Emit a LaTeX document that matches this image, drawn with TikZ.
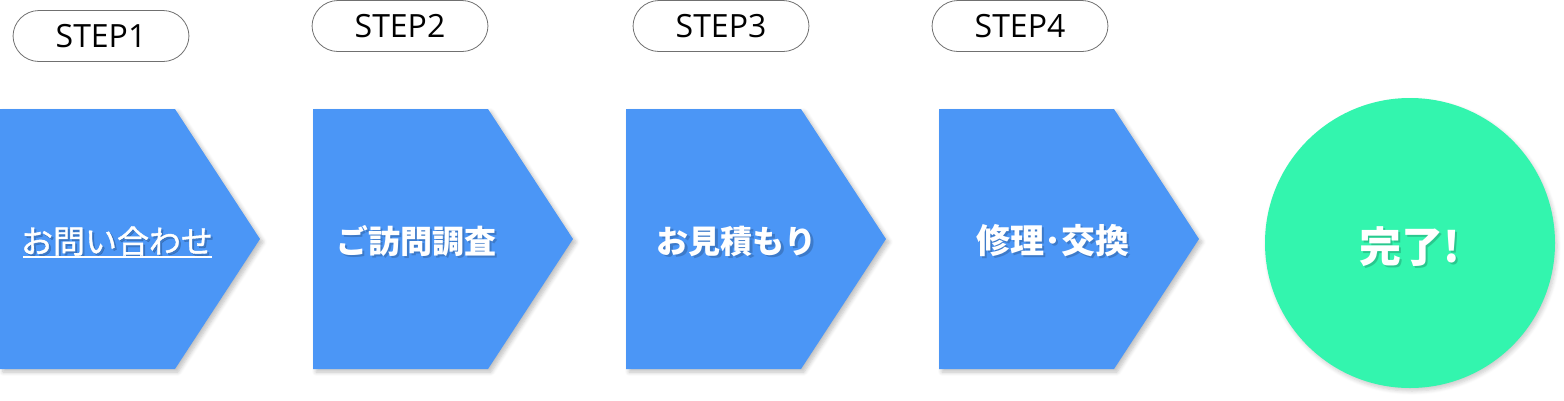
\documentclass[tikz,border=0pt]{standalone}
\usepackage{fontspec}
\setmainfont{Open Sans}
\newfontfamily\jp{Noto Sans CJK JP}
\newfontfamily\jpmed[FakeBold=1.2]{Noto Sans CJK JP}
\usetikzlibrary{shadows.blur}
\definecolor{stepblue}{HTML}{4B96F6}
\definecolor{donegreen}{HTML}{33F5AE}
\definecolor{pillgray}{HTML}{707070}
\tikzset{
  x=1pt,y=-1pt,
  arrowshape/.style={fill=stepblue,blur shadow={shadow xshift=3pt,shadow yshift=-3pt,shadow blur steps=6,shadow opacity=25,shadow blur radius=4pt}},
  pill/.style={draw=pillgray,line width=0.8pt,rounded corners=26pt,fill=white,minimum width=176pt,minimum height=51pt,inner sep=0pt,font=\fontsize{32}{32}\selectfont},
  lbl/.style={text=white,font=\jp\bfseries\fontsize{32}{32}\selectfont,inner sep=0pt},
  lblshadow/.style={text=black,opacity=0.18,font=\jp\bfseries\fontsize{32}{32}\selectfont,inner sep=0pt}
}
\begin{document}
\begin{tikzpicture}
\useasboundingbox (0,0) rectangle (1564,400);
% step pills
\node[pill] (p1) at (101,36) {STEP1};
\node[pill] (p2) at (400,26) {STEP2};
\node[pill] (p3) at (721,26) {STEP3};
\node[pill] (p4) at (1020,26) {STEP4};
% arrow shapes
\foreach \i/\x in {1/0,2/313,3/626,4/939}{
  \path[arrowshape] (\x,109) -- (\x+175,109) -- (\x+260,239) -- (\x+175,369) -- (\x,369) -- cycle;
}
% circle
\node[circle,fill=donegreen,minimum size=290pt,inner sep=0pt,blur shadow={shadow xshift=2pt,shadow yshift=-3pt,shadow blur steps=6,shadow opacity=20,shadow blur radius=4pt}] (done) at (1410,243) {};
% labels (shadow copies)
\node[lblshadow,font=\jpmed\fontsize{32}{32}\selectfont] at (119,243) {お問い合わせ};
\node[lblshadow] at (418,243) {ご訪問調査};
\node[lblshadow] at (739,243) {お見積もり};
\node[lblshadow,font=\jp\bfseries\fontsize{34}{34}\selectfont] at (1055,243) {修理･交換};
\node[lblshadow,font=\jp\bfseries\fontsize{42}{42}\selectfont] at (1412,249) {完了!};
% labels
\node[lbl,font=\jpmed\fontsize{32}{32}\selectfont] (l1) at (117,241) {お問い合わせ};
\draw[white,line width=1.5pt] (23,257) -- (212,257);
\node[lbl] (l2) at (416,241) {ご訪問調査};
\node[lbl] (l3) at (736,241) {お見積もり};
\node[lbl,font=\jp\bfseries\fontsize{34}{34}\selectfont] (l4) at (1053,241) {修理･交換};
\node[lbl,font=\jp\bfseries\fontsize{42}{42}\selectfont] (l5) at (1410,247) {完了!};
\end{tikzpicture}
\end{document}
